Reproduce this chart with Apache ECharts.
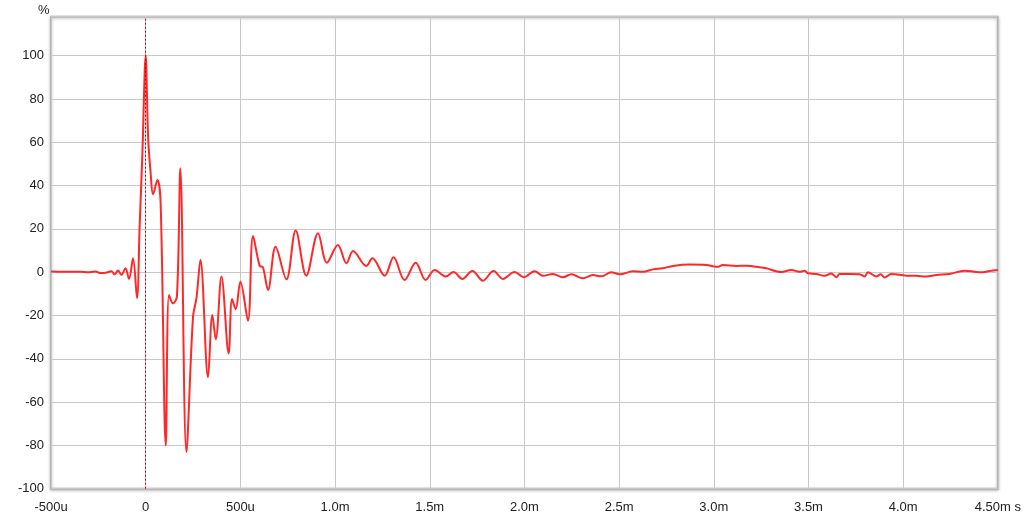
<!DOCTYPE html>
<html>
<head>
<meta charset="utf-8">
<script src="https://cdn.jsdelivr.net/npm/echarts@6/dist/echarts.min.js"></script>
<style>
html,body{margin:0;padding:0;background:#fff;}
#c{width:1024px;height:518px;}
</style>
</head>
<body>
<div id="c"></div>
<script>
// time in ms
var timeMs = [
-0.5,-0.428,-0.348,-0.296,-0.264,-0.238,-0.211,-0.181,-0.164,-0.146,-0.128,-0.107,-0.088,-0.067,-0.046,-0.032,-0.017,
0,0.013,0.026,0.039,0.062,0.079,0.106,0.123,0.144,0.165,0.183,0.215,0.250,0.268,0.289,0.329,0.352,0.370,0.400,0.438,
0.456,0.475,0.500,0.540,0.567,0.602,0.619,0.646,0.686,0.743,0.792,0.848,0.910,0.957,1.015,1.060,1.095,1.165,1.197,
1.262,1.309,1.367,1.426,1.478,1.526,1.584,1.626,1.672,1.725,1.781,1.837,1.886,1.948,1.996,2.054,2.098,2.150,2.203,
2.248,2.309,2.362,2.406,2.459,2.503,2.573,2.626,2.678,2.731,2.784,2.872,2.960,3.022,3.048,3.119,3.172,3.242,3.277,
3.356,3.409,3.453,3.479,3.497,3.541,3.585,3.620,3.647,3.664,3.717,3.770,3.796,3.814,3.858,3.881,3.902,3.937,4.016,
4.069,4.122,4.175,4.245,4.324,4.386,4.421,4.456,4.5
];
// amplitude in %
var percent = [
0.3,0.2,0.2,0.0,0.3,-0.4,-0.3,0.4,-1.0,0.8,-1.3,1.8,-3.1,6.4,-12,21,56,
100,62,46,36,42.6,31.8,-80,-10.5,-14.4,-11.3,48,-83,-20.5,-12,5.6,-48.5,-19.8,-31,-2,-37.5,
-12.4,-17.1,-4.4,-22.4,16.7,2.9,2.3,-8.2,11.8,-3.3,19.2,-1.6,18,4.4,12.6,4.1,9.8,2.9,6.4,
-1.6,6.9,-3.6,4.4,-3.6,1,-2,0.1,-3.1,0.6,-3.9,0.6,-3.1,0.1,-2.3,0.4,-1.7,-0.8,-2.3,
-1,-2.8,-1.3,-1.9,0,-1,0.4,0.2,1.3,1.8,2.9,3.5,3.3,2.5,3.3,2.9,3,2.3,1.8,
0.1,1,0.2,0.7,-0.5,-0.8,-1.7,-0.6,-2.3,-0.8,-0.8,-0.9,-2,0,-2,-1,-2.5,-0.8,-1.6,
-1.7,-2,-1.3,-0.8,0.7,0.1,0,0.5,1
];
var xTicks = {"-0.5":"-500u","0":"0","0.5":"500u","1":"1.0m","1.5":"1.5m","2":"2.0m","2.5":"2.5m","3":"3.0m","3.5":"3.5m","4":"4.0m","4.5":"4.50m s"};
var yTicks = [-100,-80,-60,-40,-20,0,20,40,60,80,100];

var data = timeMs.map(function(t,i){return [t, percent[i]];});
var chart = echarts.init(document.getElementById('c'));
var font = 'Liberation Sans, Arial, sans-serif';
chart.setOption({
  animation:false,
  backgroundColor:'#fff',
  title:{text:'%',left:33,top:-1,textStyle:{fontSize:13,fontWeight:'normal',color:'#222',fontFamily:font}},
  grid:{left:51,right:25,top:16.7,bottom:29.3,show:true,borderColor:'#b4b4b4',borderWidth:2,backgroundColor:'#fff',
        shadowColor:'rgba(0,0,0,0.25)',shadowBlur:3,shadowOffsetX:0,shadowOffsetY:1},
  xAxis:{type:'value',min:-0.5,max:4.5,interval:0.5,
    axisLine:{show:false},
    axisTick:{show:true,length:4,lineStyle:{color:'#c4c4c4'}},
    splitLine:{show:true,lineStyle:{color:'#c8c8c8',width:1}},
    axisLabel:{margin:12,color:'#222',fontSize:13,fontFamily:font,
      formatter:function(v){var k=String(Math.round(v*10)/10);return xTicks[k]!==undefined?xTicks[k]:'';}}
  },
  yAxis:{type:'value',min:-100,max:118,interval:20,
    axisLine:{show:false},
    axisTick:{show:false},
    splitLine:{show:true,lineStyle:{color:'#c8c8c8',width:1}},
    axisLabel:{margin:7,color:'#222',fontSize:13,fontFamily:font,showMaxLabel:false,
      formatter:function(v){return yTicks.indexOf(v)>=0?String(v):'';}}
  },
  series:[{
    type:'line',data:data,smooth:0.35,symbol:'none',
    lineStyle:{color:'#ff2828',width:2},
    markLine:{silent:true,symbol:'none',label:{show:false},
      lineStyle:{color:'#cc0000',type:[2,2],width:1},
      data:[{xAxis:0}]}
  }]
});
</script>
</body>
</html>
